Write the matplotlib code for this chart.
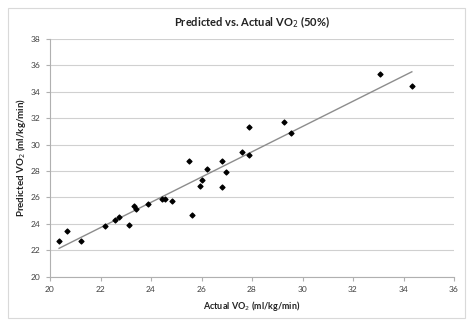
import numpy as np
import matplotlib
matplotlib.use("Agg")
import matplotlib.pyplot as plt
from matplotlib.patches import Rectangle

plt.rcParams['font.family'] = ['Lato', 'DejaVu Sans']

# Measured vs. predicted oxygen uptake (ml/kg/min)
actual_vo2 = [20.36, 20.66, 21.24, 22.18, 22.56, 22.72, 23.13, 23.33, 23.41,
              23.88, 24.44, 24.56, 24.85, 25.52, 25.62, 25.93, 26.03, 26.21,
              26.83, 26.83, 26.97, 27.60, 27.87, 27.90, 29.25, 29.55, 33.07,
              34.33]
predicted_vo2 = [22.73, 23.48, 22.68, 23.82, 24.32, 24.52, 23.92, 25.36, 25.15,
                 25.50, 25.86, 25.86, 25.76, 28.73, 24.67, 26.87, 27.32, 28.12,
                 28.78, 26.77, 27.91, 29.48, 29.20, 31.37, 31.74, 30.85, 35.36,
                 34.46]

x_ticks = list(range(20, 37, 2))
y_ticks = list(range(20, 39, 2))

fig = plt.figure(figsize=(4.74, 3.27), dpi=100)
ax = fig.add_axes([50 / 474, 1 - 276.7 / 327, (454 - 50) / 474, (276.7 - 39) / 327])

# chart frame
fig.patches.append(Rectangle((8 / 474, 1 - 318 / 327), (465 - 8) / 474, (318 - 8) / 327,
                             transform=fig.transFigure, fill=False,
                             edgecolor='#d9d9d9', linewidth=0.8))

ax.set_xlim(20, 36)
ax.set_ylim(20, 38)
ax.set_xticks(x_ticks)
ax.set_yticks(y_ticks)
ax.yaxis.grid(True, color='#d0d0d0', linewidth=0.8)
ax.set_axisbelow(True)
for side in ('top', 'right'):
    ax.spines[side].set_visible(False)
for side in ('left', 'bottom'):
    ax.spines[side].set_color('#b0b0b0')
    ax.spines[side].set_linewidth(0.8)
ax.tick_params(axis='both', length=3, width=0.8, color='#b0b0b0',
               labelsize=6, labelcolor='#404040', pad=4)

ax.scatter(actual_vo2, predicted_vo2, marker='D', s=6, color='black', zorder=3)

# least-squares trend line across the data range
slope, intercept = np.polyfit(actual_vo2, predicted_vo2, 1)
xs = np.array([min(actual_vo2), max(actual_vo2)])
ax.plot(xs, slope * xs + intercept, color='#8c8c8c', linewidth=1.0, zorder=2)

ax.set_title('Predicted vs. Actual VO$_2$ (50%)', fontsize=8, fontweight='bold',
             color='#222222', pad=9)
ax.set_xlabel('Actual VO$_2$ (ml/kg/min)', fontsize=6.5, fontweight='bold',
              color='#222222', labelpad=4)
ax.set_ylabel('Predicted VO$_2$ (ml/kg/min)', fontsize=7, fontweight='bold',
              color='#222222', labelpad=1.5)

fig.savefig('out.png', dpi=100)
